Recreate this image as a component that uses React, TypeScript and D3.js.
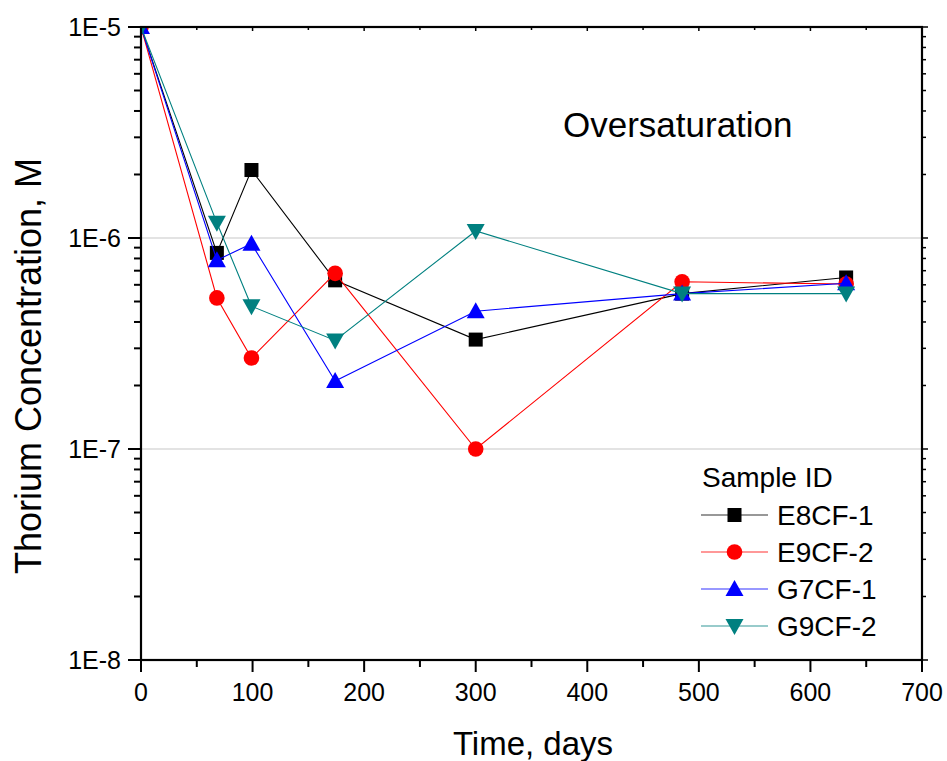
import React from "react";
import * as d3 from "d3";

const days = [0, 68, 99, 174, 300, 485, 632];
const e8cf1 = [1e-5, 8.5e-7, 2.1e-6, 6.3e-7, 3.3e-7, 5.45e-7, 6.5e-7];
const e9cf2 = [1e-5, 5.2e-7, 2.7e-7, 6.8e-7, 1.0e-7, 6.2e-7, 6.05e-7];
const g7cf1 = [1e-5, 7.85e-7, 9.4e-7, 2.1e-7, 4.5e-7, 5.45e-7, 6.1e-7];
const g9cf2 = [1e-5, 1.18e-6, 4.75e-7, 3.27e-7, 1.08e-6, 5.45e-7, 5.45e-7];

const seriesNames = ["E8CF-1", "E9CF-2", "G7CF-1", "G9CF-2"];
const seriesValues = [e8cf1, e9cf2, g7cf1, g9cf2];
const seriesColors = ["#000000", "#ff0000", "#0000ff", "#008080"];
const seriesSymbols = ["square", "circle", "triangle", "triangleDown"];

const xTicks = [0, 100, 200, 300, 400, 500, 600, 700];
const yTicks = [1e-8, 1e-7, 1e-6, 1e-5];
const yTickLabels = ["1E-8", "1E-7", "1E-6", "1E-5"];

const FONT = "'Liberation Sans', Arial, sans-serif";

function Marker({ type, x, y, color }: { type: string; x: number; y: number; color: string }) {
  if (type === "square") return <rect x={x - 7} y={y - 7} width={14} height={14} fill={color} />;
  if (type === "circle") return <circle cx={x} cy={y} r={7.8} fill={color} />;
  if (type === "triangle")
    return <path d={`M${x},${y - 9} L${x + 9},${y + 7} L${x - 9},${y + 7} Z`} fill={color} />;
  return <path d={`M${x},${y + 9} L${x + 9},${y - 7} L${x - 9},${y - 7} Z`} fill={color} />;
}

export default function App() {
  const L = 141, R = 922, T = 27, B = 660;
  const x = d3.scaleLinear().domain([0, 700]).range([L, R]);
  const y = d3.scaleLog().domain([1e-8, 1e-5]).range([B, T]);
  const line = d3
    .line<[number, number]>()
    .x((d) => x(d[0]))
    .y((d) => y(d[1]));

  const minorX = d3.range(50, 700, 100);
  const minorY: number[] = [];
  for (let e = -8; e < -5; e++) for (let m = 2; m <= 9; m++) minorY.push(m * Math.pow(10, e));

  return (
    <svg width={947} height={761} style={{ position: "absolute", left: 0, top: 0, background: "#fff" }} fontFamily={FONT}>
      <defs>
        <clipPath id="plotclip">
          <rect x={L} y={T} width={R - L} height={B - T} />
        </clipPath>
      </defs>
      {/* grid */}
      {[1e-7, 1e-6].map((v) => (
        <line key={v} x1={L} x2={R} y1={y(v)} y2={y(v)} stroke="#c8c8c8" strokeWidth={1.2} />
      ))}
      {/* series */}
      <g clipPath="url(#plotclip)">
        {seriesValues.map((vals, i) => (
          <g key={seriesNames[i]}>
            <path
              d={line(days.map((d, j) => [d, vals[j]] as [number, number])) || ""}
              fill="none"
              stroke={seriesColors[i]}
              strokeWidth={1.1}
            />
            {days.map((d, j) => (
              <Marker key={j} type={seriesSymbols[i]} x={x(d)} y={y(vals[j])} color={seriesColors[i]} />
            ))}
          </g>
        ))}
      </g>
      {/* frame */}
      <rect x={L} y={T} width={R - L} height={B - T} fill="none" stroke="#000" strokeWidth={2.2} />
      {/* x ticks */}
      {xTicks.map((t) => (
        <g key={t}>
          <line x1={x(t)} x2={x(t)} y1={B} y2={B + 12} stroke="#000" strokeWidth={2} />
          <line x1={x(t)} x2={x(t)} y1={T} y2={T + 4} stroke="#000" strokeWidth={1.5} />
          <text x={x(t)} y={701} textAnchor="middle" fontSize={25}>
            {t}
          </text>
        </g>
      ))}
      {minorX.map((t) => (
        <g key={t}>
          <line x1={x(t)} x2={x(t)} y1={B} y2={B + 7} stroke="#000" strokeWidth={2} />
          <line x1={x(t)} x2={x(t)} y1={T} y2={T + 3} stroke="#000" strokeWidth={1.5} />
        </g>
      ))}
      {/* y ticks */}
      {yTicks.map((t, i) => (
        <g key={t}>
          <line x1={L - 13} x2={L} y1={y(t)} y2={y(t)} stroke="#000" strokeWidth={2} />
          <line x1={R} x2={R + 6} y1={y(t)} y2={y(t)} stroke="#000" strokeWidth={1.5} />
          <text x={121} y={y(t) + 9} textAnchor="end" fontSize={25}>
            {yTickLabels[i]}
          </text>
        </g>
      ))}
      {minorY.map((t) => (
        <g key={t}>
          <line x1={L - 7} x2={L} y1={y(t)} y2={y(t)} stroke="#000" strokeWidth={2} />
          <line x1={R} x2={R + 4} y1={y(t)} y2={y(t)} stroke="#000" strokeWidth={1.5} />
        </g>
      ))}
      {/* axis titles */}
      <text x={533} y={755} textAnchor="middle" fontSize={33}>
        Time, days
      </text>
      <text transform={`translate(41,${366}) rotate(-90)`} textAnchor="middle" fontSize={36}>
        Thorium Concentration, M
      </text>
      <text x={563} y={137} fontSize={35}>
        Oversaturation
      </text>
      {/* legend */}
      <text x={702} y={487} fontSize={28}>
        Sample ID
      </text>
      {seriesNames.map((n, i) => {
        const cy = 515 + i * 37;
        return (
          <g key={n}>
            <line x1={701} x2={768} y1={cy} y2={cy} stroke={seriesColors[i]} strokeWidth={1.1} opacity={0.8} />
            <Marker type={seriesSymbols[i]} x={734.5} y={cy} color={seriesColors[i]} />
            <text x={777} y={cy + 10} fontSize={28}>
              {n}
            </text>
          </g>
        );
      })}
    </svg>
  );
}
